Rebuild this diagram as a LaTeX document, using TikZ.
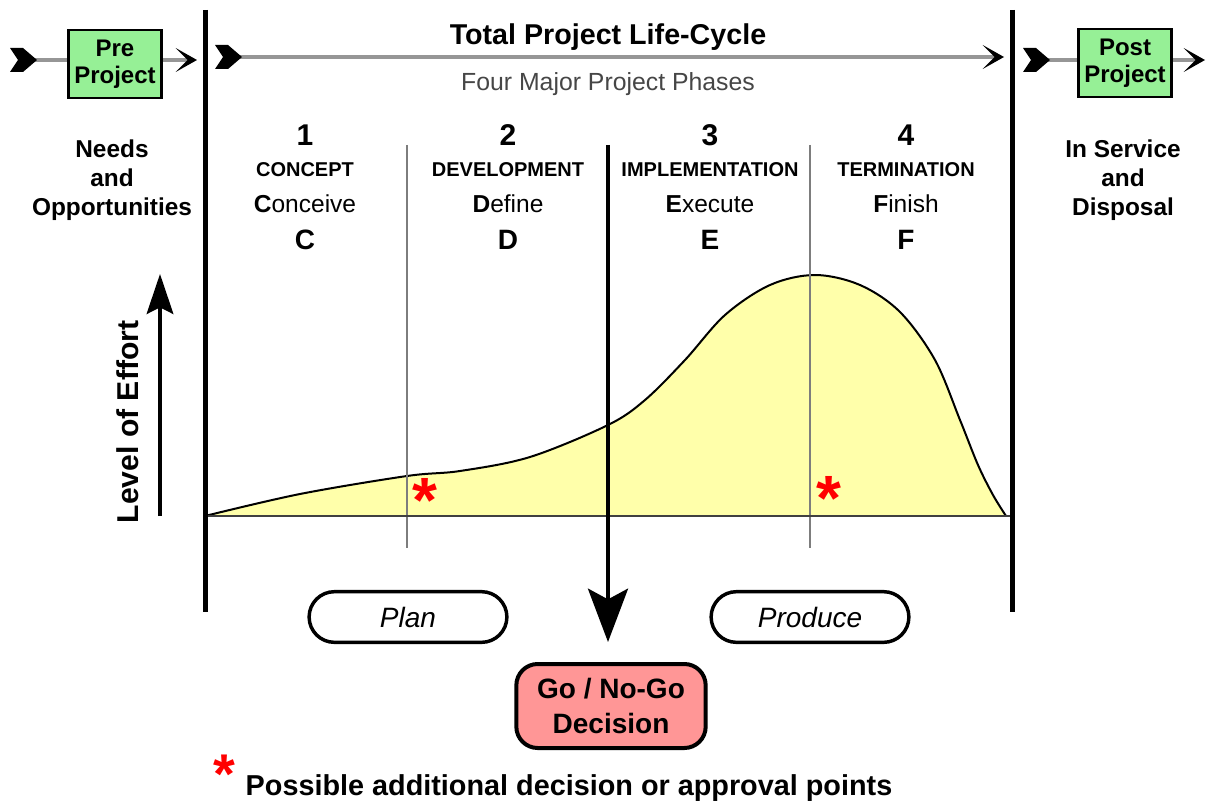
\documentclass[tikz,border=0pt]{standalone}
\usepackage{fontspec}
\setmainfont{Liberation Sans}
\usetikzlibrary{arrows.meta,shapes.misc}

\definecolor{effortyellow}{RGB}{255,255,170}
\definecolor{boxgreen}{RGB}{150,240,150}
\definecolor{decisionpink}{RGB}{255,150,150}
\definecolor{flowgray}{RGB}{150,150,150}
\definecolor{sepgray}{RGB}{125,125,125}
\definecolor{subgray}{RGB}{70,70,70}

\newcommand{\fsz}[2]{\fontsize{#1}{#2}\selectfont}
% black notched tail at the start of a flow line
\newcommand{\chevtail}[1]{\fill (#1) ++(-14,-12) -- ++(13,0) -- ++(14,12) -- ++(-14,12) -- ++(-13,0) -- ++(8,-12) -- cycle;}

\tikzset{
  flow/.style={draw=flowgray, line width=3pt},
  flowend/.style={flow, -{Stealth[length=16pt,width=18pt,inset=9pt,color=black]}},
  border/.style={line width=3.75pt},
  phasesep/.style={draw=sepgray, line width=2pt},
  sidebox/.style={draw, line width=2pt, fill=boxgreen, minimum width=70pt, minimum height=51pt,
                  align=center, font=\bfseries\fsz{18}{20.5}, inner sep=0pt},
  sidetext/.style={align=center, font=\bfseries\fsz{18.3}{21.75}},
  phasenum/.style={font=\bfseries\fsz{22.5}{26}},
  phasename/.style={font=\bfseries\fsz{15}{18}},
  phaseverb/.style={font=\fsz{18.4}{22}},
  phaseletter/.style={font=\bfseries\fsz{21}{24}},
  stage/.style={draw, line width=2.6pt, rounded rectangle, minimum width=155pt, minimum height=38pt,
                font=\itshape\fsz{21}{24}},
  star/.style={text=red, font=\bfseries\fsz{48}{48}, inner sep=2pt}
}

\begin{document}
\begin{tikzpicture}[x=0.75pt, y=-0.75pt]
\useasboundingbox (0,0) rectangle (1206,806);

% level of effort curve
\path[fill=effortyellow, draw=black, line width=1.5pt]
  plot[smooth, tension=0.55] coordinates {(205,516) (300,494) (407,476) (460,471) (530,457) (608,425)
    (645,400) (685,360) (725,315) (770,285) (815,275) (860,285) (900,312) (935,360) (960,420)
    (978,465) (993,495) (1006,516)};

% phase boundaries
\coordinate (sepAtop) at (407,145); \coordinate (sepAbot) at (407,548);
\coordinate (sepBtop) at (810,145); \coordinate (sepBbot) at (810,548);
\draw[phasesep] (sepAtop) -- (sepAbot);
\draw[phasesep] (sepBtop) -- (sepBbot);

% baseline
\coordinate (base0) at (205,516); \coordinate (base1) at (1012,516);
\draw[draw=black!75, line width=2.2pt] (base0) -- (base1);

% project limits
\coordinate (leftTop) at (205,10);   \coordinate (leftBot) at (205,612);
\coordinate (rightTop) at (1012,10); \coordinate (rightBot) at (1012,612);
\draw[border] (leftTop) -- (leftBot);
\draw[border] (rightTop) -- (rightBot);

% top life-cycle arrow
\coordinate (lifeTail) at (229,57); \coordinate (lifeHead) at (1004,57);
\draw[flowend] (lifeTail) -- (lifeHead);
\chevtail{lifeTail}
\node[font=\bfseries\fsz{21.5}{24}] (title) at (608,37) {Total Project Life-Cycle};
\node[font=\fsz{18.6}{22}, text=subgray] (subtitle) at (608,84) {Four Major Project Phases};

% pre project
\coordinate (preTail) at (24,60); \coordinate (preHead) at (197,60);
\node[sidebox] (pre) at (115,64) {Pre\\Project};
\draw[flow] (preTail) -- (pre.west |- preTail);
\draw[flowend] (pre.east |- preHead) -- (preHead);
\chevtail{preTail}
\node[sidetext] (needs) at (112,180) {Needs\\and\\Opportunities};

% post project
\coordinate (postTail) at (1037,60); \coordinate (postHead) at (1205,60);
\node[sidebox] (post) at (1125,63) {Post\\Project};
\draw[flow] (postTail) -- (post.west |- postTail);
\draw[flowend] (post.east |- postHead) -- (postHead);
\chevtail{postTail}
\node[sidetext] (service) at (1123,180) {In Service\\and\\Disposal};

% the four phases
\node[phasenum] (n1) at (305,135) {1};
\node[phasenum] (n2) at (508,135) {2};
\node[phasenum] (n3) at (710,135) {3};
\node[phasenum] (n4) at (906,135) {4};
\node[phasename] (p1) at (305,170) {CONCEPT};
\node[phasename] (p2) at (508,170) {DEVELOPMENT};
\node[phasename] (p3) at (710,170) {IMPLEMENTATION};
\node[phasename] (p4) at (906,170) {TERMINATION};
\node[phaseverb] (v1) at (305,204) {\textbf{C}onceive};
\node[phaseverb] (v2) at (508,204) {\textbf{D}efine};
\node[phaseverb] (v3) at (710,204) {\textbf{E}xecute};
\node[phaseverb] (v4) at (906,204) {\textbf{F}inish};
\node[phaseletter] (l1) at (305,240) {C};
\node[phaseletter] (l2) at (508,240) {D};
\node[phaseletter] (l3) at (710,240) {E};
\node[phaseletter] (l4) at (906,240) {F};

% effort axis
\coordinate (effortBot) at (160,516); \coordinate (effortTop) at (160,274);
\draw[line width=2.6pt, -{Stealth[length=30pt,width=20pt,inset=5pt]}] (effortBot) -- (effortTop);
\node[rotate=90, font=\bfseries\fsz{22.6}{26}] (effort) at (128,422) {Level of Effort};

% approval points
\node[star] (starA) at (425,500) {*};
\node[star] (starB) at (829,498) {*};

% plan / produce
\node[stage] (plan) at (408,617) {Plan};
\node[stage] (produce) at (810,617) {Produce};

% decision
\coordinate (decTop) at (608,145); \coordinate (decTip) at (608,642);
\node[draw, line width=3pt, fill=decisionpink, rounded corners=16pt, minimum width=142pt, minimum height=63pt,
      align=center, font=\bfseries\fsz{21}{26}] (decision) at (611,706) {Go / No-Go\\Decision};
\draw[line width=3pt, -{Stealth[length=40pt,width=30pt,inset=8pt]}] (decTop) -- (decTip);

% footnote
\node[star, font=\bfseries\fsz{42}{42}] (starKey) at (224,774) {*};
\node[anchor=west, font=\bfseries\fsz{21.6}{24}] (key) at (241,788) {Possible additional decision or approval points};
\end{tikzpicture}
\end{document}
